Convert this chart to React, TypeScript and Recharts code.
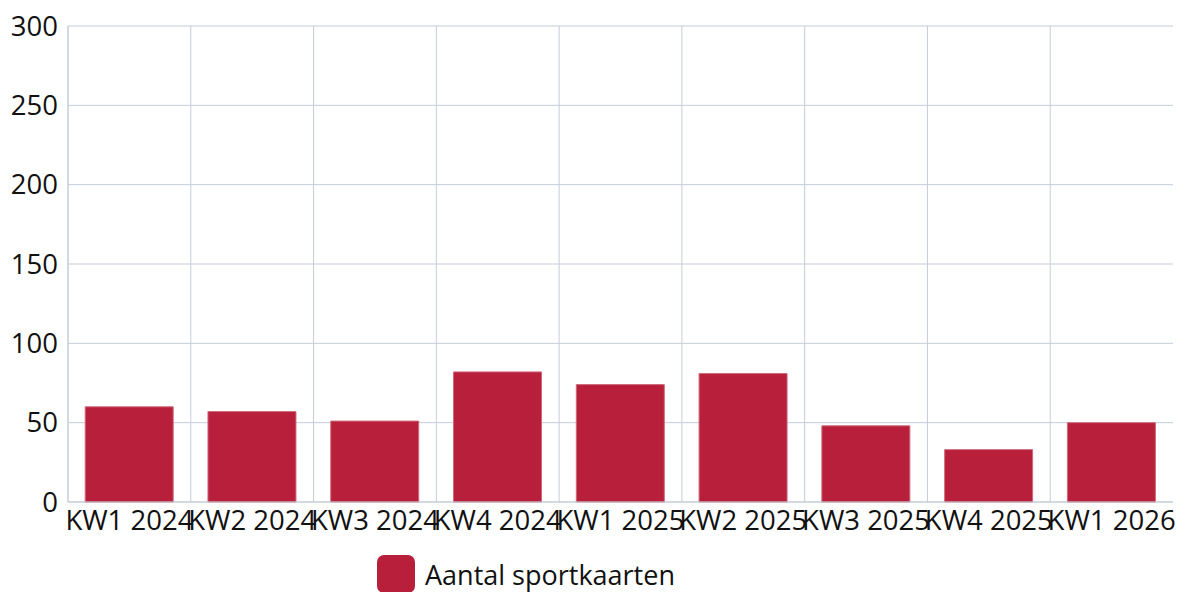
import React from 'react';
import { BarChart, Bar, XAxis, YAxis, CartesianGrid, Legend } from 'recharts';

const categories = ['KW1 2024', 'KW2 2024', 'KW3 2024', 'KW4 2024', 'KW1 2025', 'KW2 2025', 'KW3 2025', 'KW4 2025', 'KW1 2026'];
const sportkaarten = [60, 57, 51, 82, 74, 81, 48, 33, 50];
const yTicks = [0, 50, 100, 150, 200, 250, 300];
const seriesName = 'Aantal sportkaarten';

const BAR_COLOR = '#B71F3A';
const GRID_COLOR = '#C5CDD9';
const FONT = '"Open Sans", sans-serif';

const data = categories.map((week, i) => ({ week, value: sportkaarten[i] }));

const LegendContent = () => (
  <div style={{ display: 'flex', alignItems: 'center', paddingLeft: 377, paddingTop: 14, fontFamily: FONT, fontSize: 27, color: '#111' }}>
    <div style={{ width: 38, height: 38, borderRadius: 7, background: BAR_COLOR, marginRight: 10 }} />
    <span>{seriesName}</span>
  </div>
);

const App: React.FC = () => {
  return (
    <div style={{ position: 'fixed', left: 0, top: 0, width: 1184, height: 592, background: '#fff', overflow: 'hidden' }}>
      <BarChart
        width={1184}
        height={592}
        data={data}
        margin={{ top: 26, right: 11, left: 0, bottom: 0 }}
        barCategoryGap="14%"
      >
        <CartesianGrid
          stroke={GRID_COLOR}
          verticalCoordinatesGenerator={({ offset }: any) =>
            categories.map((_, i) => offset.left + (i * offset.width) / categories.length)
          }
        />
        <XAxis
          dataKey="week"
          height={39}
          axisLine={{ stroke: GRID_COLOR }}
          tickLine={false}
          tickSize={0}
          tickMargin={8}
          interval={0}
          tick={{ fill: '#111', fontSize: 27.5, fontFamily: FONT }}
        />
        <YAxis
          width={68}
          domain={[0, 300]}
          ticks={yTicks}
          axisLine={{ stroke: GRID_COLOR }}
          tickLine={false}
          tickSize={0}
          tickMargin={10}
          tick={{ fill: '#111', fontSize: 27.5, fontFamily: FONT }}
        />
        <Legend
          verticalAlign="bottom"
          align="left"
          height={51}
          wrapperStyle={{ left: 0, width: 1184 }}
          content={() => <LegendContent />}
        />
        <Bar dataKey="value" name={seriesName} fill={BAR_COLOR} stroke="#cf6a7c" strokeWidth={1} isAnimationActive={false} />
      </BarChart>
    </div>
  );
};

export default App;
